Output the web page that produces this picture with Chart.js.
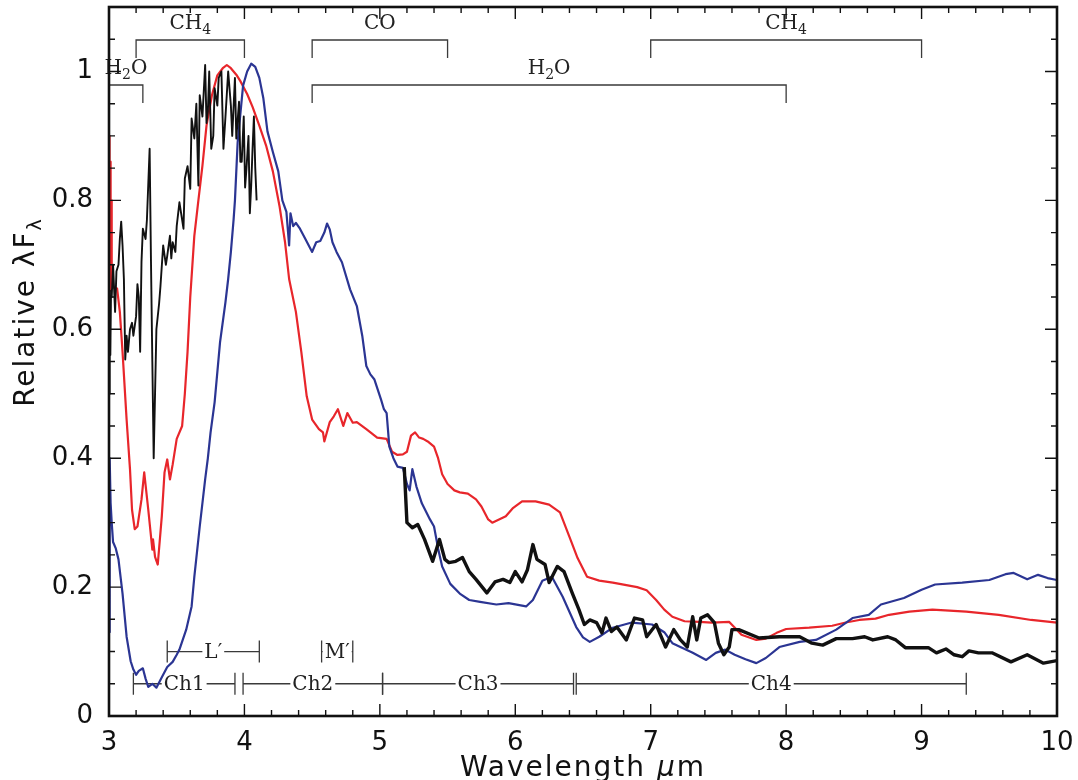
<!DOCTYPE html>
<html>
<head>
<meta charset="utf-8">
<script src="https://cdn.jsdelivr.net/npm/chart.js@4.4.1/dist/chart.umd.min.js"></script>
<style>
html, body { margin: 0; padding: 0; background: #fff; }
#spec { display: block; }
</style>
</head>
<body>
<canvas id="spec" width="1078" height="780"></canvas>
<script>
// spectra as [wavelength (um), relative lambda*F_lambda]
const redSpec = [
  [3.0,0.90],[3.004,0.72],[3.008,0.86],[3.012,0.66],[3.016,0.80],[3.02,0.70],[3.03,0.665],[3.06,0.663],
  [3.08,0.627],[3.1,0.565],[3.13,0.46],[3.155,0.383],[3.17,0.32],[3.19,0.29],[3.21,0.294],[3.24,0.336],
  [3.26,0.378],[3.29,0.32],[3.32,0.258],[3.325,0.274],[3.34,0.247],[3.36,0.235],[3.39,0.31],[3.41,0.378],
  [3.43,0.398],[3.45,0.367],[3.47,0.39],[3.5,0.43],[3.54,0.45],[3.56,0.50],[3.58,0.565],[3.6,0.65],
  [3.63,0.745],[3.66,0.80],[3.69,0.854],[3.72,0.916],[3.76,0.963],[3.8,0.994],[3.84,1.005],[3.87,1.01],
  [3.9,1.005],[3.94,0.995],[3.97,0.985],[4.02,0.965],[4.06,0.945],[4.11,0.916],[4.16,0.885],[4.21,0.845],
  [4.26,0.79],[4.3,0.735],[4.33,0.678],[4.38,0.627],[4.42,0.565],[4.46,0.496],[4.5,0.46],[4.55,0.445],
  [4.58,0.44],[4.59,0.426],[4.63,0.456],[4.66,0.465],[4.69,0.476],[4.73,0.45],[4.76,0.47],[4.8,0.455],
  [4.83,0.456],[4.9,0.445],[4.98,0.432],[5.05,0.43],[5.09,0.41],[5.13,0.405],[5.17,0.406],[5.2,0.41],
  [5.23,0.435],[5.26,0.44],[5.29,0.432],[5.32,0.43],[5.36,0.425],[5.4,0.418],[5.43,0.40],[5.46,0.375],
  [5.5,0.36],[5.55,0.35],[5.59,0.347],[5.65,0.345],[5.71,0.336],[5.75,0.325],[5.8,0.305],[5.83,0.30],
  [5.88,0.305],[5.93,0.31],[5.98,0.322],[6.05,0.333],[6.15,0.333],[6.25,0.328],[6.33,0.316],[6.4,0.278],
  [6.46,0.245],[6.53,0.216],[6.62,0.21],[6.72,0.207],[6.9,0.20],[6.97,0.195],[7.04,0.18],[7.1,0.165],
  [7.16,0.154],[7.25,0.147],[7.36,0.146],[7.45,0.145],[7.58,0.146],[7.63,0.135],[7.67,0.126],[7.78,0.118],
  [7.85,0.12],[7.93,0.129],[8.0,0.135],[8.17,0.137],[8.34,0.14],[8.44,0.145],[8.54,0.149],[8.66,0.151],
  [8.76,0.157],[8.91,0.162],[9.08,0.165],[9.33,0.162],[9.57,0.157],[9.81,0.149],[10.0,0.145]
];
const blueSpec = [
  [3.0,0.13],[3.003,0.30],[3.007,0.40],[3.012,0.33],[3.02,0.30],[3.03,0.27],[3.05,0.26],[3.07,0.243],
  [3.1,0.19],[3.13,0.123],[3.16,0.085],[3.18,0.072],[3.2,0.064],[3.22,0.07],[3.25,0.074],[3.27,0.058],
  [3.29,0.045],[3.32,0.05],[3.35,0.044],[3.39,0.06],[3.43,0.076],[3.47,0.084],[3.5,0.095],[3.52,0.103],
  [3.57,0.134],[3.61,0.17],[3.63,0.216],[3.67,0.294],[3.71,0.367],[3.73,0.40],[3.75,0.44],[3.78,0.487],
  [3.82,0.58],[3.86,0.642],[3.88,0.678],[3.9,0.72],[3.92,0.77],[3.93,0.80],[3.95,0.89],[3.99,0.978],
  [4.02,1.0],[4.05,1.012],[4.08,1.007],[4.11,0.99],[4.14,0.958],[4.17,0.907],[4.21,0.875],[4.25,0.845],
  [4.28,0.80],[4.31,0.782],[4.33,0.73],[4.34,0.78],[4.36,0.76],[4.38,0.765],[4.41,0.756],[4.45,0.74],
  [4.5,0.72],[4.53,0.735],[4.56,0.737],[4.59,0.75],[4.61,0.764],[4.63,0.755],[4.65,0.735],[4.68,0.72],
  [4.72,0.704],[4.78,0.662],[4.83,0.636],[4.87,0.59],[4.9,0.543],[4.93,0.53],[4.96,0.522],[5.01,0.49],
  [5.03,0.476],[5.05,0.47],[5.07,0.418],[5.1,0.40],[5.13,0.387],[5.17,0.385],[5.2,0.36],[5.22,0.35],
  [5.24,0.383],[5.27,0.356],[5.31,0.33],[5.37,0.305],[5.4,0.294],[5.43,0.26],[5.46,0.232],[5.52,0.205],
  [5.59,0.19],[5.66,0.18],[5.74,0.177],[5.86,0.173],[5.95,0.175],[6.08,0.17],[6.13,0.18],[6.2,0.21],
  [6.27,0.216],[6.35,0.185],[6.45,0.138],[6.5,0.122],[6.55,0.115],[6.62,0.123],[6.72,0.137],[6.86,0.145],
  [7.01,0.142],[7.1,0.13],[7.16,0.113],[7.31,0.098],[7.41,0.087],[7.48,0.098],[7.55,0.103],[7.62,0.095],
  [7.7,0.088],[7.78,0.082],[7.85,0.09],[7.95,0.107],[8.1,0.115],[8.22,0.118],[8.37,0.134],[8.49,0.152],
  [8.61,0.157],[8.7,0.173],[8.87,0.183],[9.0,0.196],[9.1,0.204],[9.3,0.207],[9.5,0.211],[9.62,0.22],
  [9.68,0.222],[9.78,0.212],[9.86,0.219],[9.93,0.214],[10.0,0.211]
];
// ground-based L band piece (noisy)
const blackL = [
  [3.0,0.50],[3.005,0.62],[3.01,0.56],[3.015,0.66],[3.02,0.65],[3.03,0.70],[3.045,0.627],[3.055,0.69],
  [3.07,0.70],[3.08,0.74],[3.09,0.767],[3.1,0.73],[3.11,0.678],[3.12,0.553],[3.13,0.59],[3.14,0.565],
  [3.155,0.60],[3.17,0.61],[3.18,0.59],[3.2,0.62],[3.21,0.67],[3.22,0.65],[3.23,0.565],[3.24,0.705],
  [3.25,0.756],[3.27,0.74],[3.28,0.77],[3.3,0.88],[3.31,0.705],[3.32,0.55],[3.33,0.40],[3.34,0.50],
  [3.35,0.60],[3.37,0.64],[3.38,0.667],[3.4,0.73],[3.42,0.70],[3.43,0.714],[3.45,0.745],[3.46,0.71],
  [3.47,0.735],[3.49,0.72],[3.5,0.76],[3.52,0.797],[3.55,0.756],[3.56,0.834],[3.58,0.853],[3.6,0.818],
  [3.61,0.927],[3.63,0.896],[3.645,0.95],[3.66,0.823],[3.67,0.963],[3.69,0.93],[3.71,1.01],[3.72,0.92],
  [3.73,0.938],[3.74,1.0],[3.755,0.88],[3.77,0.90],[3.78,0.974],[3.8,0.947],[3.81,0.99],[3.83,1.0],
  [3.845,0.88],[3.86,0.93],[3.88,1.0],[3.9,0.947],[3.91,0.90],[3.93,0.99],[3.94,0.896],[3.96,0.953],
  [3.97,0.86],[3.98,0.86],[3.995,0.93],[4.005,0.82],[4.015,0.849],[4.03,0.90],[4.04,0.78],[4.05,0.823],
  [4.06,0.88],[4.07,0.93],[4.08,0.85],[4.09,0.80]
];
// IRS piece, 5.2 - 10 um
const blackIRS = [
  [5.18,0.386],[5.2,0.30],[5.24,0.292],[5.28,0.297],[5.33,0.274],[5.39,0.24],[5.44,0.274],[5.48,0.243],
  [5.51,0.238],[5.56,0.24],[5.61,0.246],[5.66,0.224],[5.71,0.212],[5.79,0.191],[5.85,0.208],[5.91,0.212],
  [5.96,0.207],[6.0,0.224],[6.05,0.208],[6.09,0.227],[6.13,0.266],[6.16,0.243],[6.22,0.235],[6.25,0.207],
  [6.31,0.232],[6.36,0.224],[6.42,0.191],[6.47,0.165],[6.51,0.142],[6.55,0.149],[6.6,0.145],[6.64,0.129],
  [6.67,0.152],[6.71,0.131],[6.75,0.138],[6.82,0.118],[6.88,0.152],[6.94,0.149],[6.97,0.123],[7.04,0.142],
  [7.11,0.107],[7.17,0.134],[7.22,0.118],[7.27,0.107],[7.31,0.154],[7.34,0.118],[7.37,0.152],[7.42,0.157],
  [7.47,0.145],[7.5,0.113],[7.54,0.095],[7.58,0.107],[7.6,0.134],[7.65,0.134],[7.8,0.121],[7.95,0.123],
  [8.1,0.123],[8.19,0.113],[8.27,0.11],[8.37,0.12],[8.49,0.12],[8.58,0.123],[8.64,0.118],[8.75,0.123],
  [8.81,0.118],[8.88,0.106],[8.98,0.106],[9.05,0.106],[9.11,0.098],[9.18,0.104],[9.24,0.095],[9.3,0.092],
  [9.35,0.101],[9.42,0.098],[9.52,0.098],[9.66,0.084],[9.78,0.095],[9.9,0.082],[10.0,0.086]
];

// absorbers: [label, from, to]  ('_' marks a subscript character)
const bandsTop = [['CH_4', 3.2, 4.0], ['CO', 4.5, 5.5], ['CH_4', 7.0, 9.0]];
const bandsLow = [['H_2O', 3.0, 3.25], ['H_2O', 4.5, 8.0]];
// filter passbands
const filtersGround = [['L\u2032', 3.43, 4.11], ['M\u2032', 4.57, 4.80]];
const filtersIRAC = [['Ch1', 3.18, 3.93], ['Ch2', 3.99, 5.02], ['Ch3', 5.02, 6.43], ['Ch4', 6.45, 9.33]];

const xTicks = [3, 4, 5, 6, 7, 8, 9, 10];
const yTicks = [0, 0.2, 0.4, 0.6, 0.8, 1];

const pts = arr => arr.map(p => ({x: p[0], y: p[1]}));

function richText(ctx, text, cx, cy, size, family) {
  // split 'H_2O' into runs, subscripts drawn smaller and lower
  const runs = [];
  for (let i = 0; i < text.length; i++) {
    if (text[i] === '_') { runs.push({t: text[i + 1], sub: true}); i++; }
    else runs.push({t: text[i], sub: false});
  }
  let w = 0;
  runs.forEach(r => {
    ctx.font = (r.sub ? size * 0.7 : size) + 'px ' + family;
    r.w = ctx.measureText(r.t).width; w += r.w;
  });
  let x = cx - w / 2;
  ctx.textAlign = 'left';
  ctx.textBaseline = 'middle';
  runs.forEach(r => {
    ctx.font = (r.sub ? size * 0.7 : size) + 'px ' + family;
    ctx.fillText(r.t, x, r.sub ? cy + size * 0.32 : cy);
    x += r.w;
  });
  return w;
}

const specDecor = {
  id: 'specDecor',
  beforeDatasetsDraw(chart) {
    const {ctx, scales: {x, y}} = chart;
    const serif = '"DejaVu Serif", serif';
    ctx.save();
    ctx.strokeStyle = '#3a3a3a';
    ctx.fillStyle = '#222';
    ctx.lineWidth = 1.3;

    const bracket = (list, lineY) => {
      list.forEach(b => {
        const x1 = x.getPixelForValue(b[1]), x2 = x.getPixelForValue(b[2]);
        ctx.beginPath();
        ctx.moveTo(x1, lineY + 18); ctx.lineTo(x1, lineY);
        ctx.lineTo(x2, lineY); ctx.lineTo(x2, lineY + 18);
        ctx.stroke();
        richText(ctx, b[0], (x1 + x2) / 2, lineY - 16, 20, serif);
      });
    };
    bracket(bandsTop, 40);
    bracket(bandsLow, 85);

    const passband = (list, level) => {
      const yc = y.getPixelForValue(level);
      list.forEach(f => {
        const x1 = x.getPixelForValue(f[1]), x2 = x.getPixelForValue(f[2]);
        ctx.beginPath();
        ctx.moveTo(x1, yc); ctx.lineTo(x2, yc);
        ctx.moveTo(x1, yc - 11); ctx.lineTo(x1, yc + 11);
        ctx.moveTo(x2, yc - 11); ctx.lineTo(x2, yc + 11);
        ctx.stroke();
        ctx.font = '20px ' + serif;
        const w = ctx.measureText(f[0]).width;
        const cx = (x1 + x2) / 2;
        ctx.fillStyle = '#fff';
        ctx.fillRect(cx - w / 2 - 2, yc - 8, w + 4, 16);
        ctx.fillStyle = '#222';
        richText(ctx, f[0], cx, yc + 1, 20, serif);
      });
    };
    passband(filtersGround, 0.1);
    passband(filtersIRAC, 0.05);
    ctx.restore();
  },
  afterDraw(chart) {
    const {ctx, chartArea: a, scales: {x, y}} = chart;
    ctx.save();
    ctx.strokeStyle = '#111';
    ctx.lineWidth = 1.4;
    // inward ticks on all four sides
    ctx.beginPath();
    for (let i = 0; i <= 35; i++) {
      const v = 3 + i * 0.2, px = x.getPixelForValue(v);
      const len = i % 5 === 0 ? 12 : 6;
      ctx.moveTo(px, a.bottom); ctx.lineTo(px, a.bottom - len);
      ctx.moveTo(px, a.top); ctx.lineTo(px, a.top + len);
    }
    for (let i = 0; i <= 22; i++) {
      const v = i * 0.05, py = y.getPixelForValue(v);
      const len = i % 4 === 0 ? 12 : 6;
      ctx.moveTo(a.left, py); ctx.lineTo(a.left + len, py);
      ctx.moveTo(a.right, py); ctx.lineTo(a.right - len, py);
    }
    ctx.stroke();
    ctx.lineWidth = 2.6;
    ctx.strokeRect(a.left, a.top, a.right - a.left, a.bottom - a.top);

    // axis titles
    const sans = '"DejaVu Sans", sans-serif';
    ctx.fillStyle = '#111';
    ctx.letterSpacing = '2px';
    ctx.textBaseline = 'alphabetic';
    ctx.textAlign = 'left';
    const xRuns = [['Wavelength ', ''], ['\u03bc', 'italic '], ['m', '']];
    let tw = 0;
    xRuns.forEach(r => { ctx.font = r[1] + '28px ' + sans; r.w = ctx.measureText(r[0]).width; tw += r.w; });
    let tx = (a.left + a.right) / 2 - tw / 2;
    xRuns.forEach(r => { ctx.font = r[1] + '28px ' + sans; ctx.fillText(r[0], tx, 776); tx += r.w; });

    ctx.translate(34, 312);
    ctx.rotate(-Math.PI / 2);
    ctx.font = '28px ' + sans;
    const main = 'Relative \u03bbF';
    const mw = ctx.measureText(main).width;
    ctx.font = '19px ' + sans;
    const sw = ctx.measureText('\u03bb').width;
    let sx = -(mw + sw) / 2;
    ctx.font = '28px ' + sans;
    ctx.fillText(main, sx, 0);
    ctx.font = '19px ' + sans;
    ctx.fillText('\u03bb', sx + mw, 7);
    ctx.restore();
  }
};

new Chart(document.getElementById('spec'), {
  type: 'line',
  data: {
    datasets: [
      {label: 'IRS', data: pts(blackIRS), borderColor: '#111', borderWidth: 3.4},
      {label: 'L band', data: pts(blackL), borderColor: '#111', borderWidth: 1.9},
      {label: 'model B', data: pts(blueSpec), borderColor: '#2b3593', borderWidth: 2.2},
      {label: 'model A', data: pts(redSpec), borderColor: '#e8262b', borderWidth: 2.2}
    ]
  },
  options: {
    responsive: false,
    animation: false,
    devicePixelRatio: 1,
    layout: {padding: {top: 7, right: 21, left: 0, bottom: 0}},
    elements: {point: {radius: 0}, line: {tension: 0, borderJoinStyle: 'round'}},
    plugins: {legend: {display: false}, tooltip: {enabled: false}},
    scales: {
      x: {
        type: 'linear', min: 3, max: 10,
        afterBuildTicks: s => { s.ticks = xTicks.map(v => ({value: v})); },
        afterFit: s => { s.height = 64; s.paddingLeft = 0; s.paddingRight = 0; },
        grid: {display: false, drawTicks: false},
        border: {display: false},
        ticks: {font: {family: '"DejaVu Sans", sans-serif', size: 26}, color: '#111', padding: 12, maxRotation: 0}
      },
      y: {
        min: 0, max: 1.1,
        afterBuildTicks: s => { s.ticks = yTicks.map(v => ({value: v})); },
        afterFit: s => { s.width = 109; s.paddingTop = 0; s.paddingBottom = 0; },
        grid: {display: false, drawTicks: false},
        border: {display: false},
        ticks: {
          font: {family: '"DejaVu Sans", sans-serif', size: 26}, color: '#111', padding: 16,
          callback: v => String(+v.toFixed(2))
        }
      }
    }
  },
  plugins: [specDecor]
});
</script>
</body>
</html>
